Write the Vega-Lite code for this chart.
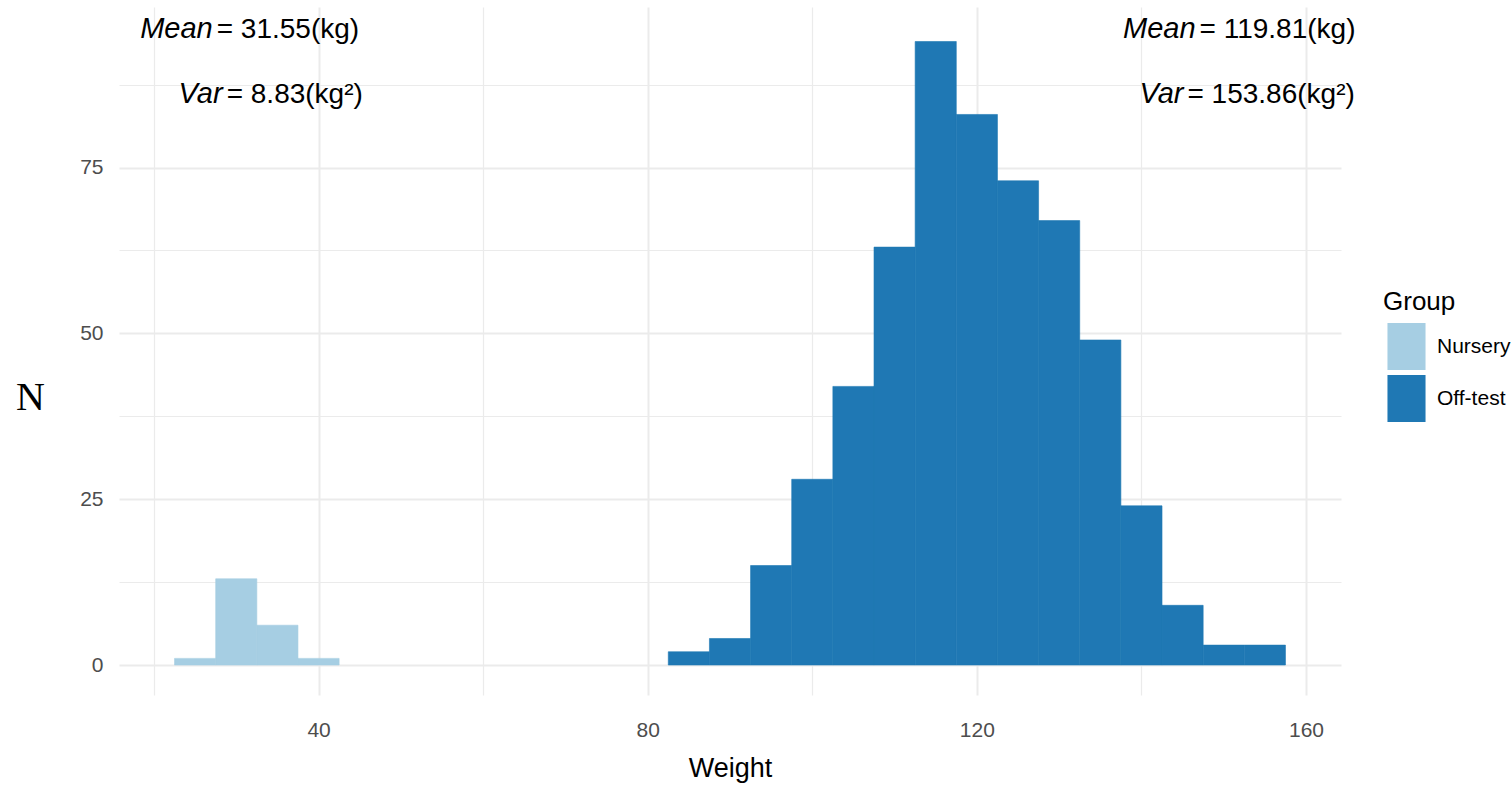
{
  "$schema": "https://vega.github.io/schema/vega-lite/v6.json",
  "autosize": {"type": "none"},
  "width": 1222,
  "height": 688,
  "padding": {"left": 119, "top": 7, "right": 170, "bottom": 90},
  "background": "white",
  "config": {
    "view": {"stroke": null},
    "font": "Liberation Sans",
    "axis": {"labelFont": "Liberation Sans", "titleFont": "Liberation Sans"},
    "legend": {"labelFont": "Liberation Sans", "titleFont": "Liberation Sans"},
    "text": {"font": "Liberation Sans"}
  },
  "datasets": {
    "bins": [
      {"group": "Nursery", "bin_start": 22.5, "bin_end": 27.5, "count": 1},
      {"group": "Nursery", "bin_start": 27.5, "bin_end": 32.5, "count": 13},
      {"group": "Nursery", "bin_start": 32.5, "bin_end": 37.5, "count": 6},
      {"group": "Nursery", "bin_start": 37.5, "bin_end": 42.5, "count": 1},
      {"group": "Off-test", "bin_start": 82.5, "bin_end": 87.5, "count": 2},
      {"group": "Off-test", "bin_start": 87.5, "bin_end": 92.5, "count": 4},
      {"group": "Off-test", "bin_start": 92.5, "bin_end": 97.5, "count": 15},
      {"group": "Off-test", "bin_start": 97.5, "bin_end": 102.5, "count": 28},
      {"group": "Off-test", "bin_start": 102.5, "bin_end": 107.5, "count": 42},
      {"group": "Off-test", "bin_start": 107.5, "bin_end": 112.5, "count": 63},
      {"group": "Off-test", "bin_start": 112.5, "bin_end": 117.5, "count": 94},
      {"group": "Off-test", "bin_start": 117.5, "bin_end": 122.5, "count": 83},
      {"group": "Off-test", "bin_start": 122.5, "bin_end": 127.5, "count": 73},
      {"group": "Off-test", "bin_start": 127.5, "bin_end": 132.5, "count": 67},
      {"group": "Off-test", "bin_start": 132.5, "bin_end": 137.5, "count": 49},
      {"group": "Off-test", "bin_start": 137.5, "bin_end": 142.5, "count": 24},
      {"group": "Off-test", "bin_start": 142.5, "bin_end": 147.5, "count": 9},
      {"group": "Off-test", "bin_start": 147.5, "bin_end": 152.5, "count": 3},
      {"group": "Off-test", "bin_start": 152.5, "bin_end": 157.5, "count": 3}
    ],
    "notes": [
      {"italic": "Mean", "rest": "= 31.55(kg)", "split": 27.38, "y": 94.6},
      {"italic": "Var", "rest": "= 8.83(kg²)", "split": 28.59, "y": 84.8},
      {"italic": "Mean", "rest": "= 119.81(kg)", "split": 146.82, "y": 94.6},
      {"italic": "Var", "rest": "= 153.86(kg²)", "split": 145.35, "y": 84.8}
    ]
  },
  "layer": [
    {
      "data": {"name": "bins"},
      "mark": {"type": "bar", "strokeWidth": 0.6, "cornerRadius": 0},
      "encoding": {
        "x": {
          "field": "bin_start",
          "type": "quantitative",
          "scale": {"domain": [15.75, 164.25], "nice": false, "zero": false},
          "axis": {
            "values": [20, 40, 60, 80, 100, 120, 140, 160],
            "labelExpr": "datum.value % 40 === 0 ? datum.label : ''",
            "domain": false,
            "ticks": false,
            "tickSize": 0,
            "labelPadding": 35,
            "labelFontSize": 21,
            "labelColor": "#4D4D4D",
            "labelBaseline": "middle",
            "grid": true,
            "gridColor": "#EBEBEB",
            "gridWidth": {"condition": {"test": "datum.value % 40 === 0", "value": 2}, "value": 1.2},
            "title": "Weight",
            "titleFontSize": 27,
            "titleFontWeight": "normal",
            "titleColor": "#000000",
            "titlePadding": 15
          }
        },
        "x2": {"field": "bin_end"},
        "y": {
          "field": "count",
          "type": "quantitative",
          "scale": {"domain": [-4.52, 99.2], "nice": false, "zero": false},
          "axis": {
            "values": [0, 12.5, 25, 37.5, 50, 62.5, 75, 87.5],
            "labelExpr": "datum.value % 25 === 0 ? datum.label : ''",
            "domain": false,
            "ticks": false,
            "tickSize": 0,
            "labelPadding": 16,
            "labelFontSize": 21,
            "labelColor": "#4D4D4D",
            "grid": true,
            "gridColor": "#EBEBEB",
            "gridWidth": {"condition": {"test": "datum.value % 25 === 0", "value": 2}, "value": 1.2},
            "title": "N",
            "titleFont": "Liberation Serif",
            "titleFontSize": 40,
            "titleFontWeight": "normal",
            "titleColor": "#000000",
            "titleAngle": 0,
            "titleAlign": "center",
            "titleBaseline": "middle",
            "titleX": -89,
            "titleY": 390
          }
        },
        "y2": {"datum": 0},
        "color": {
          "field": "group",
          "type": "nominal",
          "scale": {"domain": ["Nursery", "Off-test"], "range": ["#A6CEE3", "#1F78B4"]},
          "legend": {
            "title": "Group",
            "orient": "none",
            "legendX": 1264,
            "legendY": 282,
            "titleFontSize": 26,
            "titleFontWeight": "normal",
            "titleColor": "#000000",
            "titlePadding": 8,
            "labelFontSize": 21,
            "labelColor": "#000000",
            "labelOffset": 7,
            "labelBaseline": "middle",
            "symbolType": "M-0.81,-1H0.81V1H-0.81Z",
            "symbolSize": 2209,
            "symbolStrokeWidth": 0,
            "symbolOpacity": 1,
            "rowPadding": 5
          }
        },
        "stroke": {
          "field": "group",
          "type": "nominal",
          "scale": {"domain": ["Nursery", "Off-test"], "range": ["#A6CEE3", "#1F78B4"]},
          "legend": null
        }
      }
    },
    {
      "data": {"name": "notes"},
      "mark": {"type": "text", "align": "right", "baseline": "alphabetic", "dx": -2, "fontStyle": "italic", "fontSize": 29, "color": "#000000"},
      "encoding": {
        "x": {"field": "split", "type": "quantitative"},
        "y": {"field": "y", "type": "quantitative"},
        "text": {"field": "italic"}
      }
    },
    {
      "data": {"name": "notes"},
      "mark": {"type": "text", "align": "left", "baseline": "alphabetic", "dx": 2, "fontSize": 28, "color": "#000000"},
      "encoding": {
        "x": {"field": "split", "type": "quantitative"},
        "y": {"field": "y", "type": "quantitative"},
        "text": {"field": "rest"}
      }
    }
  ]
}
